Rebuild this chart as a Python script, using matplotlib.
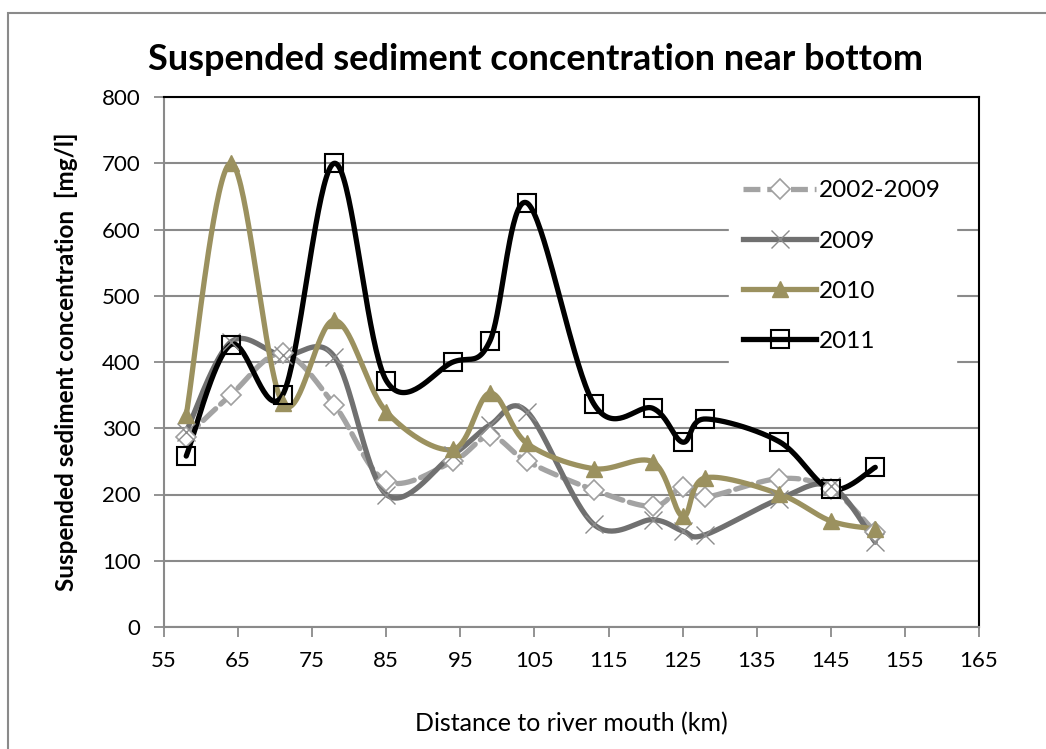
import numpy as np
import matplotlib
matplotlib.use("Agg")
import matplotlib.pyplot as plt
from matplotlib.lines import Line2D
from matplotlib.patches import Rectangle

plt.rcParams["font.family"] = ["Lato", "DejaVu Sans"]

# distance to river mouth (km)
km = [58, 64, 71, 78, 85, 94, 99, 104, 113, 121, 125, 128, 138, 145, 151]

ssc_2002_2009 = [287, 350, 413, 335, 220, 250, 288, 250, 207, 182, 212, 196, 224, 208, 143]
ssc_2009 = [295, 430, 410, 408, 200, 260, 305, 325, 155, 162, 145, 139, 193, 213, 128]
ssc_2010 = [320, 700, 338, 463, 325, 268, 353, 277, 239, 249, 167, 225, 201, 160, 148]
ssc_2011 = [258, 426, 350, 700, 372, 400, 432, 640, 337, 330, 279, 314, 280, 208, 241]

x_ticks = list(range(55, 166, 10))
y_ticks = list(range(0, 801, 100))


def smooth(xs, ys, n=40):
    # excel-style smoothed line: bezier segments, control points from neighbours / 6
    p = np.column_stack([xs, ys]).astype(float)
    p = np.vstack([p[0], p, p[-1]])
    out = []
    t = np.linspace(0, 1, n)[:, None]
    for i in range(1, len(p) - 2):
        p0, p1, p2, p3 = p[i - 1], p[i], p[i + 1], p[i + 2]
        c1 = p1 + (p2 - p0) / 6
        c2 = p2 - (p3 - p1) / 6
        seg = ((1 - t) ** 3) * p1 + 3 * ((1 - t) ** 2) * t * c1 + 3 * (1 - t) * t ** 2 * c2 + t ** 3 * p2
        out.append(seg if i == 1 else seg[1:])
    s = np.vstack(out)
    return s[:, 0], s[:, 1]


series = [
    ("2002-2009", ssc_2002_2009,
     dict(color="#a3a3a3", lw=3.8, dashes=(3.2, 1.3)),
     dict(marker="D", ms=10, mfc="white", mec="#a0a0a0", mew=1.2)),
    ("2009", ssc_2009,
     dict(color="#707070", lw=3.8),
     dict(marker="x", ms=13, mec="#8c8c8c", mew=1.0)),
    ("2010", ssc_2010,
     dict(color="#9b915f", lw=3.8),
     dict(marker="^", ms=12, mfc="#9b915f", mec="#9b915f", mew=1.0)),
    ("2011", ssc_2011,
     dict(color="black", lw=3.8),
     dict(marker="s", ms=13, mfc="none", mec="black", mew=1.5)),
]

fig = plt.figure(figsize=(10.46, 7.49), dpi=100)
ax = fig.add_axes([164 / 1046, 1 - 627 / 749, (979 - 164) / 1046, (627 - 97) / 749])

handles = []
for label, vals, lstyle, mstyle in series:
    sx, sy = smooth(km, vals)
    ax.plot(sx, sy, solid_capstyle="round", dash_capstyle="round", zorder=3, **lstyle)
    ax.plot(km, vals, ls="none", zorder=4, **mstyle)
    handles.append(Line2D([], [], label=label, **lstyle, **mstyle))

ax.set_xlim(55, 165)
ax.set_ylim(0, 800)
ax.set_xticks(x_ticks)
ax.set_yticks(y_ticks)
ax.yaxis.grid(True, color="#8a8a8a", lw=1.5)
ax.set_axisbelow(True)
for side in ["left", "bottom"]:
    ax.spines[side].set_color("#8a8a8a")
    ax.spines[side].set_linewidth(1.5)
for side in ["top", "right"]:
    ax.spines[side].set_color("black")
    ax.spines[side].set_linewidth(1.5)
ax.tick_params(length=7, width=1.3, color="#8a8a8a", labelsize=16, pad=10)

fig.text(535 / 1046, 1 - 60 / 749, "Suspended sediment concentration near bottom",
         fontsize=26, fontweight="bold", ha="center", va="center")
ax.set_xlabel("Distance to river mouth (km)", fontsize=18, labelpad=30)
ax.set_ylabel("Suspended sediment concentration  [mg/l]", fontsize=17.5,
              fontweight="bold", labelpad=17)

leg = ax.legend(handles=handles, loc="upper left", bbox_to_anchor=(0.678, 0.893),
                frameon=True, fontsize=17.5, handlelength=3.0, labelspacing=1.2,
                handletextpad=0.12, borderpad=0.6)
leg.get_frame().set_edgecolor("white")
leg.get_frame().set_facecolor("white")
leg.get_frame().set_alpha(1)

# outer chart border
fig.add_artist(Rectangle((8 / 1046, -0.01), 1.02, 1 - 13 / 749 + 0.01,
                         transform=fig.transFigure, fill=False,
                         edgecolor="#8a8a8a", lw=1.5))

fig.savefig("out.png", dpi=100)
